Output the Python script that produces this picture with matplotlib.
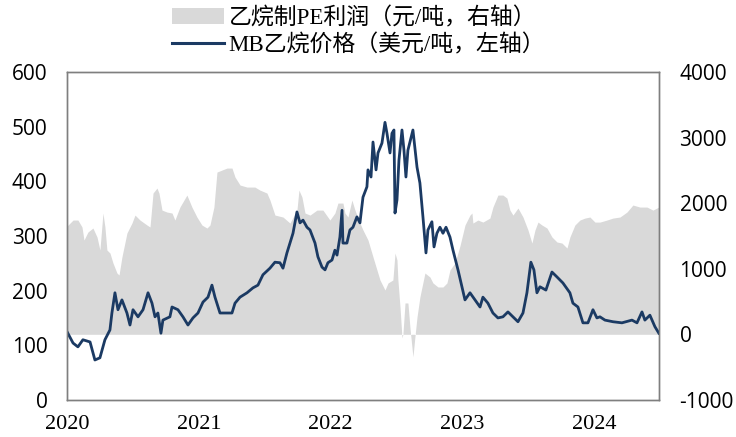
import numpy as np
import matplotlib
matplotlib.use("Agg")
import matplotlib.pyplot as plt
from matplotlib.patches import Patch
from matplotlib.lines import Line2D

plt.rcParams['font.family'] = ['Liberation Serif', 'Noto Sans CJK SC']
plt.rcParams['axes.unicode_minus'] = False

# MB ethane price (USD/t, left axis), x in decimal years
price_t = [2020.000, 2020.046, 2020.083, 2020.121, 2020.175, 2020.212, 2020.250, 2020.288,
           2020.326, 2020.341, 2020.364, 2020.387, 2020.417, 2020.455, 2020.478, 2020.501,
           2020.539, 2020.577, 2020.615, 2020.645, 2020.668, 2020.690, 2020.713, 2020.728,
           2020.781, 2020.797, 2020.842, 2020.880, 2020.918, 2020.956, 2020.994, 2021.032,
           2021.070, 2021.100, 2021.123, 2021.161, 2021.214, 2021.252, 2021.275, 2021.313,
           2021.366, 2021.411, 2021.449, 2021.487, 2021.540, 2021.578, 2021.616, 2021.639,
           2021.669, 2021.692, 2021.715, 2021.745, 2021.768, 2021.791, 2021.821, 2021.844,
           2021.882, 2021.904, 2021.935, 2021.958, 2021.980, 2022.011, 2022.033, 2022.049,
           2022.071, 2022.087, 2022.094, 2022.124, 2022.147, 2022.170, 2022.200, 2022.223,
           2022.246, 2022.276, 2022.284, 2022.307, 2022.322, 2022.345, 2022.360, 2022.390,
           2022.413, 2022.428, 2022.451, 2022.466, 2022.481, 2022.489, 2022.504, 2022.519,
           2022.542, 2022.557, 2022.572, 2022.587, 2022.625, 2022.656, 2022.678, 2022.701,
           2022.724, 2022.739, 2022.769, 2022.785, 2022.807, 2022.830, 2022.853, 2022.876,
           2022.906, 2022.929, 2022.967, 2022.997, 2023.020, 2023.058, 2023.096, 2023.134,
           2023.156, 2023.194, 2023.232, 2023.270, 2023.308, 2023.346, 2023.384, 2023.422,
           2023.460, 2023.490, 2023.520, 2023.543, 2023.566, 2023.589, 2023.634, 2023.680,
           2023.718, 2023.763, 2023.816, 2023.839, 2023.877, 2023.915, 2023.953, 2023.991,
           2024.021, 2024.044, 2024.082, 2024.143, 2024.211, 2024.287, 2024.325, 2024.363,
           2024.385, 2024.423, 2024.461, 2024.491]
price = [125, 104, 97, 110, 106, 73, 77, 110,
         128, 159, 196, 165, 183, 159, 137, 165,
         152, 165, 196, 177, 152, 159, 122, 146,
         152, 170, 165, 152, 137, 150, 159, 179,
         188, 210, 188, 159, 159, 159, 177, 188,
         196, 205, 210, 229, 241, 252, 251, 241,
         269, 287, 305, 344, 324, 329, 316, 311,
         287, 262, 243, 238, 251, 256, 274, 265,
         298, 347, 287, 287, 311, 316, 335, 324,
         371, 390, 421, 408, 472, 421, 452, 470,
         508, 488, 452, 488, 494, 342, 366, 439,
         494, 457, 408, 457, 494, 426, 397, 335,
         269, 311, 326, 280, 305, 316, 305, 316,
         298, 274, 238, 207, 183, 196, 183, 170,
         188, 177, 159, 150, 152, 161, 152, 143,
         159, 196, 252, 238, 196, 207, 201, 234,
         225, 214, 196, 177, 170, 141, 141, 165,
         150, 152, 146, 143, 141, 146, 141, 161,
         146, 155, 134, 122]

# ethane-to-PE profit (CNY/t, right axis)
profit_t = [2020.000, 2020.046, 2020.083, 2020.114, 2020.129, 2020.159, 2020.197, 2020.228,
            2020.250, 2020.273, 2020.288, 2020.303, 2020.326, 2020.349, 2020.379, 2020.395,
            2020.417, 2020.455, 2020.493, 2020.516, 2020.554, 2020.607, 2020.630, 2020.653,
            2020.683, 2020.698, 2020.721, 2020.759, 2020.797, 2020.819, 2020.857, 2020.910,
            2020.948, 2020.986, 2021.024, 2021.062, 2021.085, 2021.115, 2021.138, 2021.214,
            2021.252, 2021.275, 2021.313, 2021.366, 2021.426, 2021.464, 2021.517, 2021.540,
            2021.578, 2021.639, 2021.692, 2021.745, 2021.760, 2021.783, 2021.806, 2021.844,
            2021.897, 2021.942, 2021.995, 2022.033, 2022.056, 2022.094, 2022.109, 2022.132,
            2022.162, 2022.185, 2022.223, 2022.246, 2022.284, 2022.322, 2022.352, 2022.375,
            2022.413, 2022.436, 2022.473, 2022.489, 2022.504, 2022.511, 2022.527, 2022.542,
            2022.549, 2022.565, 2022.587, 2022.602, 2022.625, 2022.640, 2022.656, 2022.678,
            2022.716, 2022.754, 2022.777, 2022.815, 2022.853, 2022.883, 2022.906, 2022.944,
            2022.982, 2023.020, 2023.058, 2023.073, 2023.080, 2023.118, 2023.156, 2023.209,
            2023.232, 2023.270, 2023.308, 2023.338, 2023.361, 2023.384, 2023.422, 2023.460,
            2023.498, 2023.528, 2023.551, 2023.574, 2023.604, 2023.642, 2023.680, 2023.718,
            2023.756, 2023.794, 2023.816, 2023.854, 2023.892, 2023.930, 2023.968, 2024.006,
            2024.044, 2024.097, 2024.143, 2024.196, 2024.249, 2024.294, 2024.347, 2024.401,
            2024.446, 2024.491]
profit = [1650, 1743, 1743, 1637, 1438, 1560, 1621, 1484,
          1286, 1850, 1637, 1286, 1240, 1088, 935, 905,
          1180, 1545, 1697, 1819, 1743, 1667, 1637, 2155,
          2231, 2155, 1895, 1865, 1850, 1743, 1941, 2124,
          1941, 1789, 1667, 1621, 1667, 1941, 2475, 2536,
          2536, 2399, 2277, 2246, 2246, 2200, 2155, 2048,
          1819, 1789, 1697, 1895, 2200, 2094, 1850, 1819,
          1895, 1895, 1743, 1850, 2002, 2002, 1850, 1789,
          2048, 1895, 1697, 1591, 1438, 1180, 981, 829,
          676, 783, 829, 1240, 1134, 829, 417, -55,
          0, 478, 478, 112, -345, -40, 265, 570,
          935, 874, 783, 722, 722, 783, 981, 1088,
          1350, 1667, 1819, 1850, 1697, 1743, 1712, 1773,
          1941, 2124, 2124, 2078, 1895, 1819, 1926, 1789,
          1591, 1392, 1591, 1712, 1667, 1621, 1484, 1408,
          1392, 1316, 1484, 1667, 1743, 1773, 1789, 1712,
          1712, 1743, 1773, 1789, 1865, 1972, 1941, 1941,
          1895, 1941]

year_ticks = [2020, 2021, 2022, 2023, 2024]
left_ticks = [0, 100, 200, 300, 400, 500, 600]
right_ticks = [-1000, 0, 1000, 2000, 3000, 4000]

label_profit = '乙烷制PE利润（元/吨，右轴）'
label_price = 'MB乙烷价格（美元/吨，左轴）'

fill_color = '#d9d9d9'
line_color = '#1b3a63'
spine_color = '#7f7f7f'

fig = plt.figure(figsize=(7.36, 4.37), dpi=100)
ax = fig.add_axes([0.091, 0.085, 0.804, 0.75])
ax2 = ax.twinx()

ax2.fill_between(profit_t, profit, 0, color=fill_color, linewidth=0)
ax2.set_ylim(-1000, 4000)
ax2.set_yticks(right_ticks)

ax.plot(price_t, price, color=line_color, linewidth=2.0)
ax.set_ylim(0, 600)
ax.set_yticks(left_ticks)
ax.set_xlim(2020, 2024.49)
ax.set_xticks(year_ticks)
ax.set_xticklabels([str(y) for y in year_ticks])

# line above the fill
ax.set_zorder(ax2.get_zorder() + 1)
ax.patch.set_visible(False)

for a in (ax, ax2):
    for s in a.spines.values():
        s.set_color(spine_color)
        s.set_linewidth(1.0)
ax.tick_params(axis='y', length=0, pad=14, labelsize=15)
ax.tick_params(axis='x', length=0, pad=11, labelsize=16)
ax2.tick_params(axis='y', length=0, pad=15, labelsize=15)
for lab in ax.get_yticklabels() + ax2.get_yticklabels():
    lab.set_family('Open Sans')

handles = [Patch(facecolor=fill_color, edgecolor='none'),
           Line2D([], [], color=line_color, linewidth=2.2)]
fig.legend(handles, [label_profit, label_price], loc='upper left',
           bbox_to_anchor=(172 / 736, 1 - 7 / 437), frameon=False, fontsize=16.5,
           handlelength=2.25, handletextpad=0.22, labelspacing=0.22,
           borderpad=0, borderaxespad=0)

fig.savefig('out.png', dpi=100)
